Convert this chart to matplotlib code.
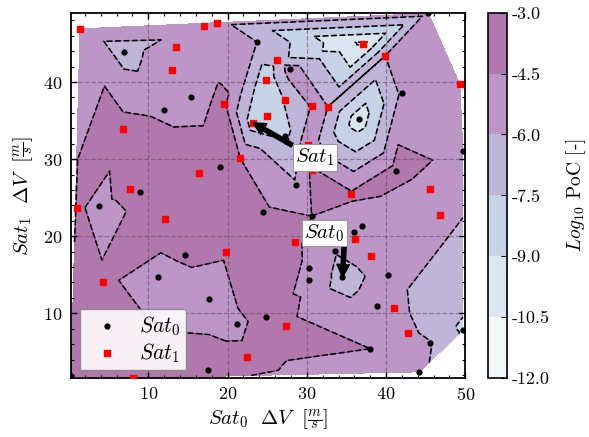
import numpy as np
import matplotlib
matplotlib.use("Agg")
import matplotlib.pyplot as plt
import matplotlib.tri as mtri
from matplotlib.ticker import MultipleLocator

plt.rcParams["font.family"] = "serif"
plt.rcParams["font.serif"] = ["cmr10", "DejaVu Serif"]
plt.rcParams["mathtext.fontset"] = "cm"
plt.rcParams["axes.unicode_minus"] = False
plt.rcParams["axes.formatter.use_mathtext"] = True

# Sat0 samples: delta-v of each satellite [m/s] and log10 probability of collision
sat0_dv0 = [6.97, 23.7, 27.9, 15.4, 12.0, 27.3, 19.05, 28.6, 8.95, 45.35, 42.0, 36.6,
            49.7, 41.3, 3.74, 24.5, 14.6, 11.2, 17.7, 24.9, 21.2, 17.5, 30.6, 37.0,
            36.0, 33.6, 30.3, 30.3, 34.5, 40.2, 38.9, 45.6, 38.0, 44.2, 49.7, 0.25]
sat0_dv1 = [43.9, 45.2, 41.7, 38.1, 36.4, 33.0, 29.0, 26.7, 25.7, 48.9, 38.6, 35.2,
            31.0, 28.5, 23.9, 23.1, 17.6, 14.7, 11.8, 9.5, 8.6, 2.7, 22.6, 21.3,
            20.6, 18.1, 15.9, 14.35, 14.7, 14.9, 10.9, 6.15, 5.4, 2.4, 7.8, 1.8]
sat0_logpoc = [-6.6, -6.0, -5.3, -5.0, -4.8, -7.9, -3.8, -5.8, -3.8, -5.5, -5.7, -10.0,
               -5.0, -3.9, -5.0, -4.2, -4.3, -5.0, -5.0, -4.0, -4.8, -4.0, -4.5, -5.2,
               -5.3, -5.9, -4.8, -4.8, -6.6, -5.4, -5.3, -5.9, -4.5, -5.5, -7.7, -4.0]

# Sat1 samples
sat1_dv0 = [1.38, 17.0, 18.7, 13.5, 12.95, 26.25, 24.8, 27.2, 19.5, 24.95, 23.2, 6.77,
            30.2, 21.6, 16.4, 7.7, 37.15, 39.9, 49.3, 30.7, 32.65, 30.6, 35.6, 45.6,
            0.96, 12.1, 28.5, 19.85, 4.3, 27.4, 22.4, 8.1, 46.8, 36.1, 38.1, 41.0, 42.8]
sat1_dv1 = [46.9, 47.3, 47.7, 44.5, 41.6, 42.9, 40.2, 37.7, 37.2, 35.6, 34.7, 33.9,
            31.8, 30.1, 28.2, 26.1, 45.0, 43.4, 39.7, 36.9, 36.8, 28.6, 25.5, 26.1,
            23.6, 22.25, 19.2, 17.9, 14.1, 8.35, 4.3, 1.6, 22.8, 19.6, 17.4, 10.7, 7.4]
sat1_logpoc = [-5.3, -5.3, -5.5, -5.0, -5.0, -7.0, -8.6, -7.4, -4.2, -8.7, -8.3, -3.9,
               -5.0, -4.5, -3.7, -3.8, -10.8, -6.0, -5.0, -5.8, -6.0, -4.3, -4.3, -5.2,
               -4.2, -3.8, -4.2, -4.4, -4.3, -4.0, -4.2, -3.8, -5.5, -5.5, -5.4, -5.5, -5.6]

levels = [-12.0, -10.5, -9.0, -7.5, -6.0, -4.5, -3.0]
level_labels = ["-12.0", "-10.5", "-9.0", "-7.5", "-6.0", "-4.5", "-3.0"]

# minimum-PoC samples highlighted with arrows
best_sat0 = 28   # index into the Sat0 arrays
best_sat1 = 10   # index into the Sat1 arrays

x = np.array(sat0_dv0 + sat1_dv0)
y = np.array(sat0_dv1 + sat1_dv1)
z = np.array(sat0_logpoc + sat1_logpoc)
tri = mtri.Triangulation(x, y)

fig = plt.figure(figsize=(5.89, 4.37), dpi=100)
ax = fig.add_axes([0.120, 0.135, 0.670, 0.836])
cax = fig.add_axes([0.829, 0.135, 0.032, 0.836])

cf = ax.tricontourf(tri, z, levels=levels, cmap="BuPu", alpha=0.55, zorder=1)
ax.tricontour(tri, z, levels=levels, colors="k", linestyles="--", linewidths=1.15, zorder=2)

ax.grid(True, which="major", linestyle="--", color="#6b4a6b", alpha=0.6, linewidth=0.9, zorder=3)
ax.set_axisbelow(False)

s0 = ax.scatter(sat0_dv0, sat0_dv1, s=12, c="k", marker="o", zorder=4, label=r"$Sat_0$")
s1 = ax.scatter(sat1_dv0, sat1_dv1, s=16, c="red", marker="s", zorder=4, label=r"$Sat_1$")

ax.set_xlim(0.2, 50.0)
ax.set_ylim(1.6, 49.0)
ax.xaxis.set_major_locator(MultipleLocator(10))
ax.yaxis.set_major_locator(MultipleLocator(10))
ax.xaxis.set_minor_locator(MultipleLocator(2))
ax.yaxis.set_minor_locator(MultipleLocator(2))
ax.tick_params(which="both", direction="in", top=True, right=True, labelsize=13)
ax.tick_params(which="major", length=4.5, width=1.0, pad=6)
ax.tick_params(which="minor", length=2.5, width=0.8)
for sp in ax.spines.values():
    sp.set_linewidth(1.3)

ax.set_xlabel(r"$Sat_0\ \ \Delta V\ \ [\frac{m}{s}]$", fontsize=15, labelpad=3)
ax.set_ylabel(r"$Sat_1\ \ \Delta V\ \ [\frac{m}{s}]$", fontsize=15, labelpad=6)

arrow_kw = dict(facecolor="black", edgecolor="black", width=3.0, headwidth=9, headlength=9, shrink=0.0)
box_kw = dict(boxstyle="square,pad=0.12", facecolor="white", edgecolor="#999999", linewidth=0.8)
ax.annotate(r"$Sat_1$", xy=(sat1_dv0[best_sat1], sat1_dv1[best_sat1]), xytext=(31.0, 30.2),
            fontsize=15, ha="center", va="center", bbox=box_kw, arrowprops=arrow_kw, zorder=6)
ax.annotate(r"$Sat_0$", xy=(sat0_dv0[best_sat0], sat0_dv1[best_sat0]), xytext=(32.2, 20.4),
            fontsize=15, ha="center", va="center", bbox=box_kw, arrowprops=arrow_kw, zorder=6)

leg = ax.legend(handles=[s0, s1], loc="lower left", fontsize=15.5, fancybox=False,
                edgecolor="#888888", framealpha=0.9, borderpad=0.25, labelspacing=0.15,
                handletextpad=0.5, handlelength=2.0, borderaxespad=0.0,
                bbox_to_anchor=(0.024, 0.022))
leg.set_zorder(7)

cb = fig.colorbar(cf, cax=cax)
cb.set_ticks(levels)
cb.set_ticklabels(level_labels)
cb.ax.tick_params(direction="in", length=4, labelsize=13)
cb.outline.set_linewidth(1.2)
cb.set_label(r"$Log_{10}$ PoC [-]", fontsize=14, labelpad=10)

fig.savefig("out.png", dpi=100)
